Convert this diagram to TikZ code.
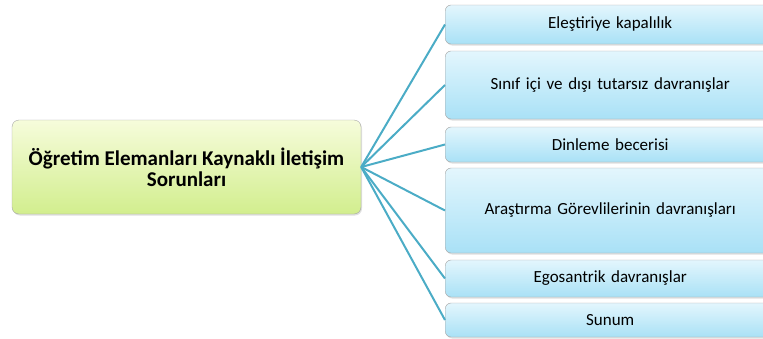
\documentclass[tikz,border=0pt]{standalone}
\usepackage{fontspec}
\setmainfont{Carlito}
\usetikzlibrary{shadows}

\definecolor{linkblue}{HTML}{4BACC6}
\definecolor{boxtop}{HTML}{E3F6FD}
\definecolor{boxbottom}{HTML}{A9E1F6}
\definecolor{roottop}{HTML}{F6FCDB}
\definecolor{rootbottom}{HTML}{D2EE8E}
\definecolor{rim}{HTML}{A6A6A6}

\tikzset{
  rootbox/.style={draw=rim,rounded corners=7pt,top color=roottop,bottom color=rootbottom,
    minimum width=349pt,minimum height=94pt,align=center,font=\fontsize{21}{21}\selectfont\bfseries,
    drop shadow={shadow xshift=1pt,shadow yshift=-1.5pt,opacity=0.25}},
  leafbox/.style={draw=rim,rounded corners=6pt,top color=boxtop,bottom color=boxbottom,
    minimum width=330pt,anchor=west,inner xsep=0pt,font=\fontsize{17}{19}\selectfont,
    drop shadow={shadow xshift=1pt,shadow yshift=-1.5pt,opacity=0.25}},
  link/.style={draw=linkblue,line width=2pt}
}

\begin{document}
\begin{tikzpicture}[x=1pt,y=-1pt]
\useasboundingbox (0,0) rectangle (763,338);
\clip (0,0) rectangle (763,338);
% root
\node[rootbox] (root) at (186.5,167) {Öğretim Elemanları Kaynaklı İletişim\\Sorunları};
% leaves: name/centre y/height/text
\foreach \n/\y/\h/\t in {a/24.5/39/{Eleştiriye kapalılık},
    b/85/68/{Sınıf içi ve dışı tutarsız davranışlar},
    c/144.5/35/{Dinleme becerisi},
    d/210.5/85/{Araştırma Görevlilerinin davranışları},
    e/278.5/37/{Egosantrik davranışlar},
    f/320/34/{Sunum}}
  \node[leafbox,minimum height=\h pt,text width=322pt,align=center] (\n) at (445,\y) {\t};
% links
\foreach \n in {a,b,c,d,e,f}
  \draw[link] (root.east) -- (\n.west);
\end{tikzpicture}
\end{document}
